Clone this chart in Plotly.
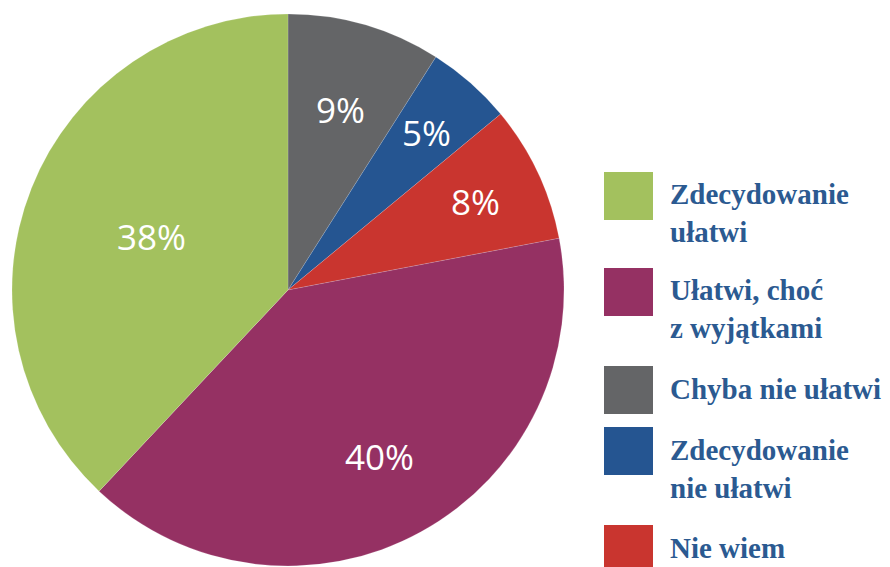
import math
import plotly.graph_objects as go

# Slice data (clockwise from 12 o'clock)
labels = ["Chyba nie ułatwi", "Zdecydowanie nie ułatwi", "Nie wiem",
          "Ułatwi, choć z wyjątkami", "Zdecydowanie ułatwi"]
values = [9, 5, 8, 40, 38]
colors = ["#646567", "#255591", "#c9352f", "#953163", "#a3c15e"]

# Legend (display order)
legend_labels = ["Zdecydowanie<br>ułatwi", "Ułatwi, choć<br>z wyjątkami",
                 "Chyba nie ułatwi", "Zdecydowanie<br>nie ułatwi", "Nie wiem"]
legend_colors = ["#a3c15e", "#953163", "#646567", "#255591", "#c9352f"]

# Style: radial placement of the percentage labels (fraction of radius)
label_radius = [0.68, 0.76, 0.75, 0.69, 0.53]

W, H = 890, 567
CX, CY, R = 288, 290, 276  # pie centre / radius in pixels

fig = go.Figure()
fig.add_trace(go.Pie(
    labels=labels, values=values, sort=False, direction="clockwise",
    rotation=0,
    marker=dict(colors=colors, line=dict(color="rgba(255,255,255,0.3)", width=0.5)),
    textinfo="none",
    domain=dict(x=[(CX - R) / W, (CX + R) / W], y=[1 - (CY + R) / H, 1 - (CY - R) / H]),
    showlegend=False, hoverinfo="label+percent",
))

annotations = []
# Percentage labels placed at each slice's mid-angle
total = sum(values)
cum = 0
for v, rf in zip(values, label_radius):
    mid = (cum + v / 2) / total * 2 * math.pi
    cum += v
    px = CX + rf * R * math.sin(mid)
    py = CY - rf * R * math.cos(mid)
    annotations.append(dict(xref="paper", yref="paper", x=px / W, y=1 - py / H,
                            xanchor="center", yanchor="middle", showarrow=False,
                            text=f"{v}%",
                            font=dict(family="Open Sans", size=35, color="white")))

# Legend squares: top pixel positions
sq_tops = [172, 268, 366, 427, 525]
sq_size = 48
shapes = []
for top, lab, col in zip(sq_tops, legend_labels, legend_colors):
    shapes.append(dict(type="rect", xref="paper", yref="paper",
                       x0=604 / W, x1=(604 + 49) / W,
                       y0=1 - (top + sq_size) / H, y1=1 - top / H,
                       fillcolor=col, line=dict(width=0)))
    cy = top + sq_size / 2
    annotations.append(dict(xref="paper", yref="paper", x=668 / W,
                            y=1 - (cy - 19.5) / H, xanchor="left", yanchor="top",
                            text="<b>" + lab + "</b>", showarrow=False, align="left",
                            font=dict(family="Liberation Serif", size=29, color="#2b5a91")))

fig.update_layout(width=W, height=H, margin=dict(l=0, r=0, t=0, b=0),
                  paper_bgcolor="white", plot_bgcolor="white",
                  shapes=shapes, annotations=annotations)
fig.write_html("out.html", config={"displayModeBar": False},
               post_script="document.body.style.margin='0';")
